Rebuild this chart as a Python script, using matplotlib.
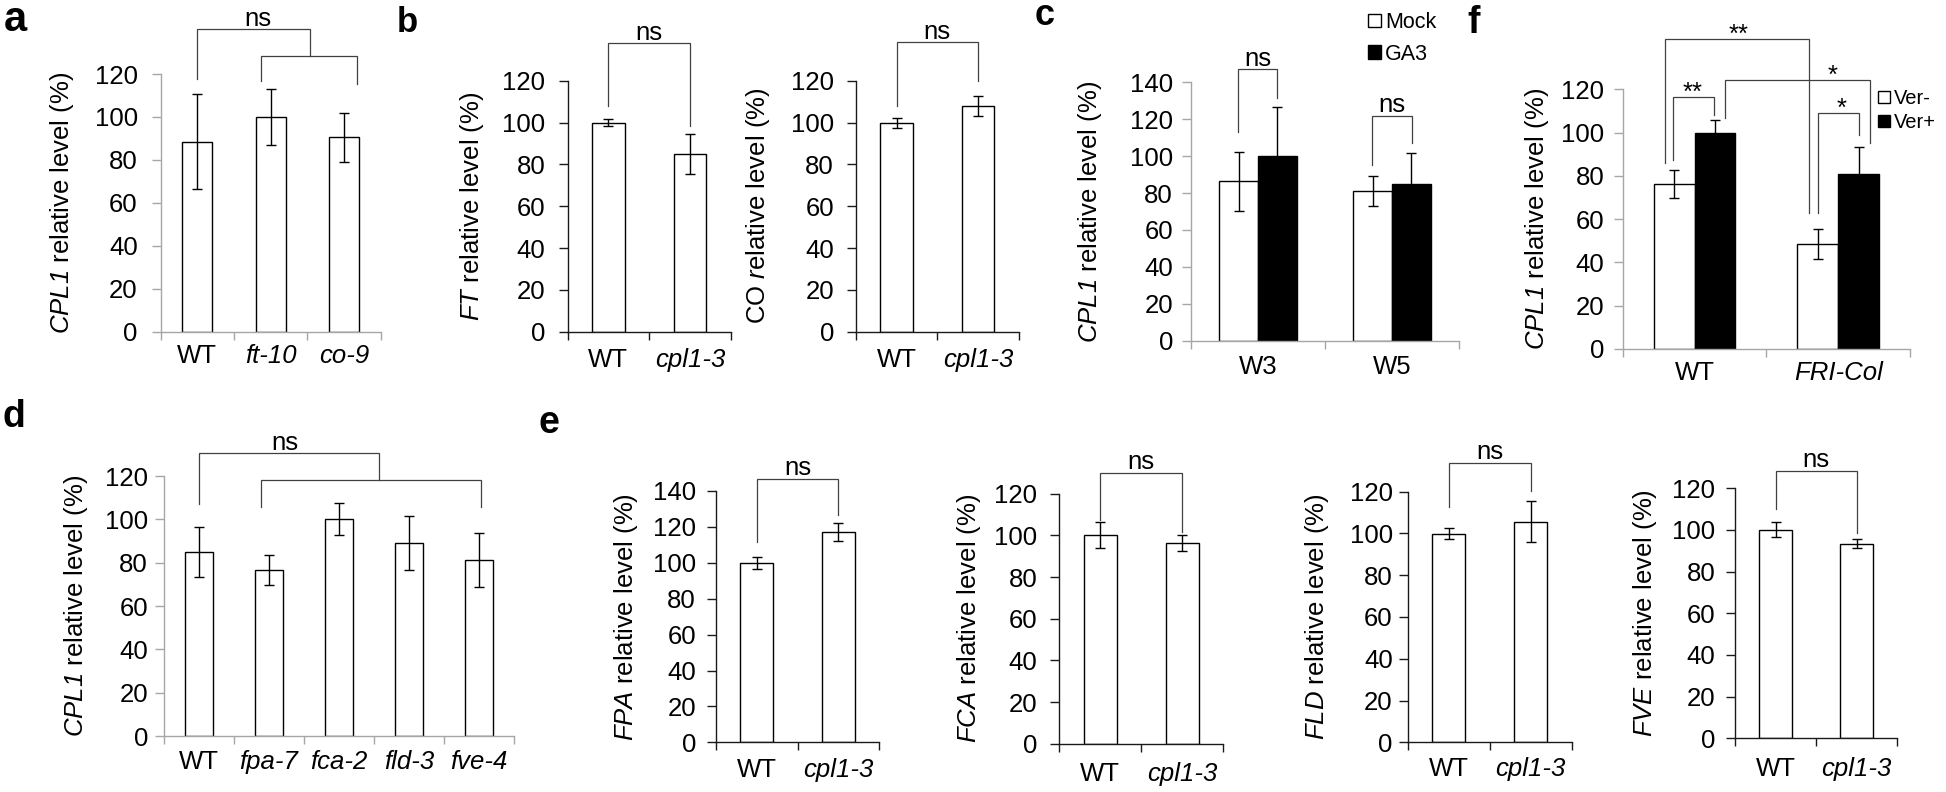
import matplotlib
matplotlib.use("Agg")
import matplotlib.pyplot as plt
import numpy as np

plt.rcParams['font.family'] = 'Liberation Sans'
plt.rcParams['mathtext.fontset'] = 'custom'
plt.rcParams['mathtext.rm'] = 'Liberation Sans'
plt.rcParams['mathtext.it'] = 'Liberation Sans:italic'
# bf slot used for italic gene names so that digits stay italic too
plt.rcParams['mathtext.bf'] = 'Liberation Sans:italic'

W, H = 1946, 792

# ---------------- data ----------------
a_labels = ['WT', 'ft-10', 'co-9']
a_vals = [88.5, 100, 90.5]
a_err = [22, 13, 11.5]

b_labels = ['WT', 'cpl1-3']
ft_vals = [100, 85]
ft_err = [1.7, 9.6]
co_vals = [100, 107.8]
co_err = [2.4, 4.9]

c_groups = ['W3', 'W5']
c_mock = [86.5, 81.3]
c_mock_err = [16, 8.2]
c_ga3 = [100.2, 84.9]
c_ga3_err = [26.2, 17]

d_labels = ['WT', 'fpa-7', 'fca-2', 'fld-3', 'fve-4']
d_vals = [84.9, 76.5, 100.1, 89.1, 81.2]
d_err = [11.7, 7, 7.3, 12.3, 12.6]

e_labels = ['WT', 'cpl1-3']
fpa_vals = [99.8, 117.1]
fpa_err = [3.2, 5.2]
fca_vals = [100.2, 96.2]
fca_err = [6.3, 3.9]
fld_vals = [99.9, 105.7]
fld_err = [2.7, 9.8]
fve_vals = [100.1, 93.4]
fve_err = [3.5, 2.1]

f_groups = ['WT', 'FRI-Col']
f_verm = [76.4, 48.4]
f_verm_err = [6.5, 6.9]
f_verp = [100, 80.7]
f_verp_err = [5.9, 12.7]

# significance brackets: (x1, x2, top, end1, end2, text, text_x)
a_brackets = [(0.0, 1.536, 140.8, 117.7, 128.5, 'ns', 0.83),
              (0.868, 2.173, 128.5, 116.7, 115.2, None, None)]
ft_brackets = [(0, 1, 137.9, 107.9, 98.3, 'ns', 0.5)]
co_brackets = [(0, 1, 138.3, 107.9, 120.0, 'ns', 0.5)]
c_brackets = [(-0.151, 0.144, 147.0, 112.9, 131.7, 'ns', 0.0),
              (0.849, 1.152, 121.9, 95.2, 107.0, 'ns', 1.0)]
d_brackets = [(0.0, 2.571, 130.5, 107.1, 118.2, 'ns', 1.23),
              (0.881, 4.024, 118.2, 105.5, 105.5, None, None)]
fpa_brackets = [(0, 1, 146.9, 111.4, 126.6, 'ns', 0.5)]
fca_brackets = [(0, 1, 130.1, 107.4, 101.8, 'ns', 0.5)]
fld_brackets = [(0, 1, 133.9, 112.5, 120.5, 'ns', 0.5)]
fve_brackets = [(0, 1, 128.5, 110.2, 98.4, 'ns', 0.5)]
f_brackets = [(-0.208, 0.795, 143.2, 85.8, 62.7, '**', 0.31),
              (-0.152, 0.136, 116.3, 87.3, 108.1, '**', -0.015),
              (0.212, 1.221, 124.3, 106.6, 95.0, '*', 0.96),
              (0.862, 1.145, 109.2, 62.7, 98.9, '*', 1.025)]

GREY = '#a6a6a6'
BLACK = '#1a1a1a'
FS = 18.5

fig = plt.figure(figsize=(W / 100, H / 100), dpi=100)


def make_ax(x0, x1, y_top, y_zero, ymax, step, spine, ypad, xpad, ylab, ylab_dist,
            xlabels, styles, fs=FS):
    ax = fig.add_axes([x0 / W, 1 - y_zero / H, (x1 - x0) / W, (y_zero - y_top) / H])
    n = len(xlabels)
    ax.set_ylim(0, ymax)
    ax.set_xlim(-0.5, n - 0.5)
    ax.set_yticks(np.arange(0, ymax + 1, step))
    ax.set_xticks(range(n))
    ax.set_xticks(np.arange(-0.5, n, 1.0), minor=True)
    ax.set_xticklabels(xlabels, fontsize=fs)
    for lbl, st in zip(ax.get_xticklabels(), styles):
        lbl.set_fontstyle(st)
    for s in ['top', 'right']:
        ax.spines[s].set_visible(False)
    for s in ['left', 'bottom']:
        ax.spines[s].set_color(spine)
        ax.spines[s].set_linewidth(1.0)
    ax.tick_params(axis='y', direction='out', length=6.5, width=1.0, color=spine,
                   pad=ypad * 0.72, labelsize=fs)
    ax.tick_params(axis='x', which='major', length=0, pad=xpad * 0.72)
    ax.tick_params(axis='x', which='minor', direction='out', length=5.5, width=1.0, color=spine)
    ax.set_ylabel(ylab, fontsize=fs)
    ax.yaxis.label.set_va('center')
    ax.yaxis.set_label_coords(-ylab_dist / (x1 - x0), 0.5)
    ax.patch.set_alpha(0)
    return ax


def bars(ax, x, vals, err, width, face):
    return ax.bar(x, vals, width, yerr=err, color=face, edgecolor='black', linewidth=1.0,
                  error_kw=dict(ecolor='black', elinewidth=1.0, capsize=3.8, capthick=1.0))


def brackets(ax, specs, fs=FS):
    for x1, x2, top, e1, e2, txt, tx in specs:
        ax.plot([x1, x1, x2, x2], [e1, top, top, e2], color='#404040', lw=0.9,
                clip_on=False, solid_joinstyle='miter')
        if txt:
            off = 2.5 if txt == 'ns' else -2.0
            ax.annotate(txt, (tx, top), xytext=(0, off), textcoords='offset points',
                        ha='center', va='baseline', fontsize=fs, annotation_clip=False)


def styles_for(labels):
    return ['normal' if l in ('WT', 'W3', 'W5') else 'italic' for l in labels]


# ---- a ----
ax = make_ax(160.7, 380.7, 74, 331.7, 120, 20, GREY, 14, 12,
             r'$\mathbf{CPL1}$ relative level (%)', 99, a_labels, styles_for(a_labels))
bars(ax, range(3), a_vals, a_err, 0.41, 'white')
brackets(ax, a_brackets)

# ---- b ----
ax = make_ax(567.5, 731, 80.7, 331.7, 120, 20, BLACK, 13, 16.5,
             r'$\mathbf{FT}$ relative level (%)', 96, b_labels, styles_for(b_labels))
bars(ax, range(2), ft_vals, ft_err, 0.40, 'white')
brackets(ax, ft_brackets)

ax = make_ax(856, 1018.6, 80.7, 331.7, 120, 20, BLACK, 13, 16.5,
             r'CO $\mathbf{r}$elative level (%)', 97.7, b_labels, styles_for(b_labels))
bars(ax, range(2), co_vals, co_err, 0.40, 'white')
brackets(ax, co_brackets)

# ---- c ----
ax = make_ax(1191, 1459, 82.3, 340.7, 140, 20, GREY, 9, 14,
             r'$\mathbf{CPL1}$ relative level (%)', 101, c_groups, styles_for(c_groups))
xg = np.arange(2)
bw = 0.29
mock = bars(ax, xg - bw / 2, c_mock, c_mock_err, bw, 'white')
ga3 = bars(ax, xg + bw / 2, c_ga3, c_ga3_err, bw, 'black')
brackets(ax, c_brackets)
ax.legend([mock[0], ga3[0]], ['Mock', 'GA3'],
          loc='upper left', bbox_to_anchor=(1368 / W, 1 - 12 / H),
          bbox_transform=fig.transFigure, frameon=False, fontsize=15.5,
          handlelength=0.6, handleheight=0.6, handletextpad=0.2,
          labelspacing=0.5, borderpad=0, borderaxespad=0)

# ---- f ----
ax = make_ax(1622.7, 1910, 89.3, 349, 120, 20, GREY, 9.5, 12.5,
             r'$\mathbf{CPL1}$ relative level (%)', 86, f_groups, styles_for(f_groups))
bw = 0.285
verm = bars(ax, xg - bw / 2, f_verm, f_verm_err, bw, 'white')
verp = bars(ax, xg + bw / 2, f_verp, f_verp_err, bw, 'black')
brackets(ax, f_brackets)
ax.legend([verm[0], verp[0]], ['Ver-', 'Ver+'],
          loc='upper left', bbox_to_anchor=(1878 / W, 1 - 89 / H),
          bbox_transform=fig.transFigure, frameon=False, fontsize=14.5,
          handlelength=0.6, handleheight=0.6, handletextpad=0.2,
          labelspacing=0.25, borderpad=0, borderaxespad=0)

# ---- d ----
ax = make_ax(164, 514, 476, 736, 120, 20, GREY, 7, 14,
             r'$\mathbf{CPL1}$ relative level (%)', 88, d_labels, styles_for(d_labels))
bars(ax, range(5), d_vals, d_err, 0.41, 'white')
brackets(ax, d_brackets)

# ---- e ----
e_panels = [
    (716, 879, 491, 742.3, 140, fpa_vals, fpa_err, fpa_brackets, 'FPA', 11, 16),
    (1059.3, 1223.1, 493.7, 743.7, 120, fca_vals, fca_err, fca_brackets, 'FCA', 13, 18),
    (1407.9, 1571.6, 491.7, 742.3, 120, fld_vals, fld_err, fld_brackets, 'FLD', 6, 15),
    (1735.2, 1897, 488.3, 738.3, 120, fve_vals, fve_err, fve_brackets, 'FVE', 11, 18.5),
]
for x0, x1, yt, yz, ymax, vals, err, br, gene, ypad, xpad in e_panels:
    ax = make_ax(x0, x1, yt, yz, ymax, 20, BLACK, ypad, xpad,
                 r'$\mathbf{' + gene + '}$ relative level (%)', 90.5,
                 e_labels, styles_for(e_labels))
    bars(ax, range(2), vals, err, 0.40, 'white')
    brackets(ax, br)

# ---- panel letters ----
for letter, x, y, size in [('a', 4, 31, 30), ('b', 397, 32, 25), ('c', 1035, 25, 26),
                           ('f', 1467, 33, 27), ('d', 2, 427, 27), ('e', 538, 433, 27)]:
    fig.text(x / W, 1 - y / H, letter, fontsize=size, fontweight='bold',
             ha='left', va='baseline')

fig.savefig('out.png', dpi=100)
